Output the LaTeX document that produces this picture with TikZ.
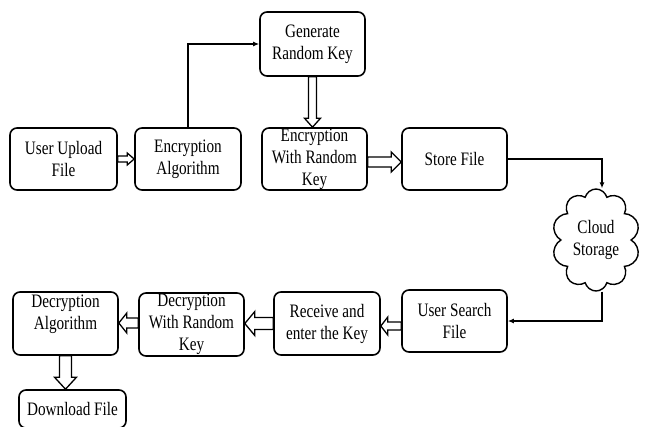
\documentclass[tikz,border=0pt]{standalone}
\usepackage{fontspec}
\setmainfont[FakeStretch=0.8]{Liberation Serif}
\usetikzlibrary{shapes.symbols,arrows.meta,calc}
\newcommand\hblk[6]{% from, to, y offset, shaft half, head half, head length (signed)
  \draw[blk] let \p1=(#1), \p2=(#2) in
  ({\x1},{\y1+#3+#4}) -- ({\x2-(#6)},{\y1+#3+#4}) -- ({\x2-(#6)},{\y1+#3+#5}) -- ({\x2},{\y1+#3})
  -- ({\x2-(#6)},{\y1+#3-#5}) -- ({\x2-(#6)},{\y1+#3-#4}) -- ({\x1},{\y1+#3-#4}) -- cycle;}
\newcommand\vblk[6]{% from, to, x offset, shaft half, head half, head length (signed)
  \draw[blk] let \p1=(#1), \p2=(#2) in
  ({\x1+#3+#4},{\y1}) -- ({\x1+#3+#4},{\y2-(#6)}) -- ({\x1+#3+#5},{\y2-(#6)}) -- ({\x1+#3},{\y2})
  -- ({\x1+#3-#5},{\y2-(#6)}) -- ({\x1+#3-#4},{\y2-(#6)}) -- ({\x1+#3-#4},{\y1}) -- cycle;}
\begin{document}
\begin{tikzpicture}[x=1pt,y=-1pt,
  box/.style={draw,line width=1.6pt,rounded corners=7pt,inner sep=0pt,align=center,
    font=\fontsize{19}{22}\selectfont,minimum width=105pt,minimum height=62pt},
  blk/.style={draw,fill=white,line width=1.3pt,line join=miter},
  conn/.style={line width=1.4pt,-{Latex[length=6pt,width=5pt]}}]
\useasboundingbox (0,0) rectangle (647,426);
\node[box,minimum width=107pt] (uu) at (63.5,159) {User Upload\\File};
\node[box,minimum width=106pt] (ea) at (188,159) {Encryption\\Algorithm};
\node[box,minimum height=64pt] (gk) at (312.5,44) {Generate\\Random Key};
\node[box] (ew) at (314.5,159) {Encryption\\With Random\\Key};
\node[box] (sf) at (454.5,159) {Store File};
\node[cloud,draw,line width=1.4pt,cloud puffs=10,aspect=0.85,inner sep=0pt,
  minimum width=88pt,minimum height=102pt,align=center,
  font=\fontsize{19}{22}\selectfont] (cl) at (596,240) {Cloud\\Storage};
\node[box] (us) at (454.5,321) {User Search\\File};
\node[box,minimum width=106pt,minimum height=63pt] (rk) at (327,323.5) {Receive and\\enter the Key};
\node[box,minimum height=63pt] (dw) at (191.5,324.5) {Decryption\\With Random\\Key};
\node[box,minimum height=63pt] (da) at (65.5,323.5) {Decryption\\Algorithm\\~};
\node[box,minimum width=107pt,minimum height=38pt] (dl) at (72.5,409) {Download File};
\draw[conn] (ea.north) |- (gk.west);
\draw[conn] (sf.east) -| ([xshift=6pt]cl.north);
\draw[conn] ([xshift=6pt]cl.south) |- (us.east);
\hblk{uu.east}{ea.west}{0pt}{3pt}{6pt}{7pt}
\vblk{gk.south}{ew.north}{0pt}{4pt}{8pt}{-9pt}
\hblk{ew.east}{sf.west}{-3pt}{5pt}{10pt}{10pt}
\hblk{us.west}{rk.east}{-5pt}{4pt}{9pt}{-7pt}
\hblk{rk.west}{dw.east}{0pt}{6pt}{12pt}{-10pt}
\hblk{dw.west}{da.east}{1.5pt}{5pt}{10pt}{-8pt}
\vblk{da.south}{dl.north}{0pt}{6pt}{11pt}{-12pt}
\end{tikzpicture}
\end{document}
